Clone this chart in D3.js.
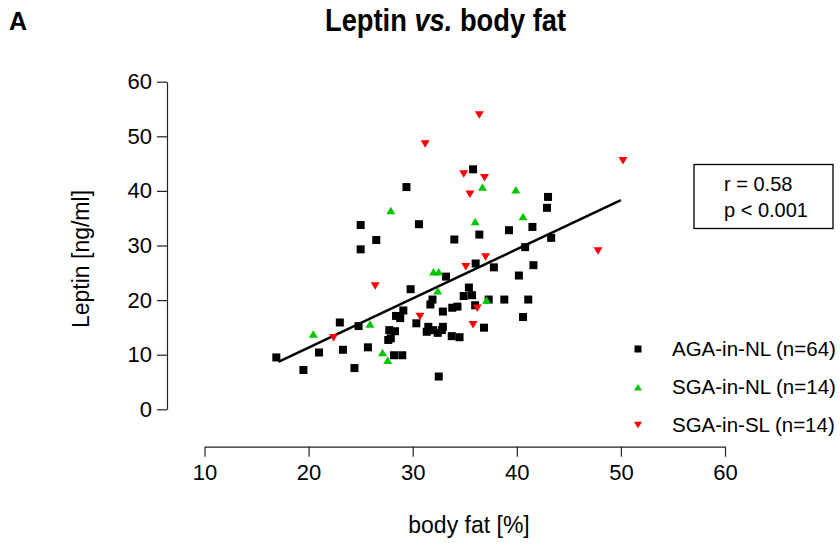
<!DOCTYPE html>
<html>
<head>
<meta charset="utf-8">
<script src="https://cdn.jsdelivr.net/npm/d3@7"></script>
<style>
  body { margin: 0; background: #fff; }
  svg text { font-family: "Liberation Sans", Arial, sans-serif; fill: #000; }
</style>
</head>
<body>
<div id="chart"></div>
<script>
// body fat [%] and leptin [ng/ml] per group
var agaFat = [25.0, 35.8, 29.4, 30.6, 36.4, 26.5, 34.0, 25.0, 43.0, 42.9, 41.5, 39.25, 43.3, 40.8,
    23.0, 24.8, 21.0, 23.3, 16.9, 19.5, 24.4, 36.05, 37.8, 33.2, 29.8, 35.4, 34.9, 35.7, 31.9, 31.7,
    37.3, 36.0, 33.8, 34.3, 32.9, 29.1, 28.4, 28.8, 30.35, 36.85, 31.5, 31.35, 32.4, 32.9, 32.8,
    27.75, 28.3, 27.9, 27.65, 33.75, 34.5, 25.7, 28.2, 29.0, 32.5, 41.6, 40.2, 38.8, 41.1, 40.6, 31.95];
var agaLep = [33.75, 43.95, 40.7, 33.9, 32.0, 31.0, 31.1, 29.3, 38.9, 36.9, 33.4, 32.8, 31.4, 29.7,
    15.9, 15.25, 10.4, 10.9, 9.5, 7.2, 7.55, 26.7, 26.0, 24.3, 22.0, 22.3, 20.75, 20.9, 20.1, 19.2,
    20.1, 19.05, 18.6, 18.8, 17.9, 18.1, 17.1, 16.7, 15.75, 14.95, 15.1, 14.2, 14.0, 15.1, 14.5,
    14.5, 14.3, 13.0, 12.7, 13.4, 13.2, 11.35, 9.9, 9.9, 6.0, 26.4, 24.5, 20.1, 20.1, 16.9, 14.5];

var sgaNlFat = [36.7, 27.9, 36.0, 39.9, 40.6, 32.0, 32.5, 32.4, 37.1, 25.9, 20.45, 27.1, 27.6];
var sgaNlLep = [40.7, 36.4, 34.4, 40.2, 35.3, 25.2, 25.2, 21.7, 20.0, 15.6, 13.8, 10.4, 9.0];

var sgaSlFat = [36.4, 31.2, 34.9, 36.9, 35.5, 50.2, 47.8, 37.0, 35.1, 26.4, 36.2, 30.7, 35.8, 22.4];
var sgaSlLep = [53.9, 48.6, 43.1, 42.4, 39.4, 45.5, 29.0, 27.9, 26.1, 22.6, 18.5, 17.0, 15.5, 13.1];

// regression line end points
var fitX = [17.1, 50.0];
var fitY = [8.7, 38.3];

var xTicks = [10, 20, 30, 40, 50, 60];
var yTicks = [0, 10, 20, 30, 40, 50, 60];

var legendLabels = ["AGA-in-NL (n=64)", "SGA-in-NL (n=14)", "SGA-in-SL (n=14)"];
var statLines = ["r = 0.58", "p < 0.001"];

var width = 840, height = 550;
var svg = d3.select("#chart").append("svg")
    .attr("width", width)
    .attr("height", height);

var x = d3.scaleLinear().domain([10, 60]).range([204.5, 725]);
var y = d3.scaleLinear().domain([0, 60]).range([409.3, 81.7]);

// axes, set off from the plot like in R
var yAxis = svg.append("g")
    .attr("transform", "translate(167,0)")
    .call(d3.axisLeft(y).tickValues(yTicks).tickSize(10).tickSizeOuter(0).tickPadding(5));
var xAxis = svg.append("g")
    .attr("transform", "translate(0,446.7)")
    .call(d3.axisBottom(x).tickValues(xTicks).tickSize(10).tickSizeOuter(0).tickPadding(8));

[xAxis, yAxis].forEach(function(ax) {
    ax.selectAll("path, line").attr("stroke", "#222").attr("stroke-width", 1.2);
    ax.selectAll("text").style("font-size", "22px").attr("fill", "#000")
        .style("font-family", "'Liberation Sans', Arial, sans-serif");
});

// regression line
svg.append("line")
    .attr("x1", x(fitX[0])).attr("y1", y(fitY[0]))
    .attr("x2", x(fitX[1])).attr("y2", y(fitY[1]))
    .attr("stroke", "#000")
    .attr("stroke-width", 2.5);

function triUp(w, h) {
    return "M0," + (-h / 2) + "L" + (w / 2) + "," + (h / 2) + "L" + (-w / 2) + "," + (h / 2) + "Z";
}
function triDown(w, h) {
    return "M0," + (h / 2) + "L" + (w / 2) + "," + (-h / 2) + "L" + (-w / 2) + "," + (-h / 2) + "Z";
}

var sq = 8;
svg.append("g").selectAll("rect")
    .data(d3.range(agaFat.length))
    .join("rect")
    .attr("x", function(i) { return x(agaFat[i]) - sq / 2; })
    .attr("y", function(i) { return y(agaLep[i]) - sq / 2; })
    .attr("width", sq).attr("height", sq)
    .attr("fill", "#000");

svg.append("g").selectAll("path")
    .data(d3.range(sgaNlFat.length))
    .join("path")
    .attr("d", triUp(9, 7.5))
    .attr("transform", function(i) { return "translate(" + x(sgaNlFat[i]) + "," + y(sgaNlLep[i]) + ")"; })
    .attr("fill", "#00c800");

svg.append("g").selectAll("path")
    .data(d3.range(sgaSlFat.length))
    .join("path")
    .attr("d", triDown(9, 7.5))
    .attr("transform", function(i) { return "translate(" + x(sgaSlFat[i]) + "," + y(sgaSlLep[i]) + ")"; })
    .attr("fill", "#ff0000");

// titles
svg.append("text")
    .attr("x", 9).attr("y", 30)
    .style("font-size", "25px").style("font-weight", "bold")
    .text("A");

// title in three pieces, squeezed to the width it has in the picture
var titleParts = [
    {t: "Leptin", x0: 325, len: 81.8, it: false},
    {t: "vs.", x0: 414.4, len: 37.9, it: true},
    {t: "body fat", x0: 459.9, len: 106.1, it: false}
];
svg.selectAll(".title")
    .data(titleParts)
    .join("text")
    .attr("class", "title")
    .attr("x", function(d) { return d.x0; })
    .attr("y", 31)
    .attr("textLength", function(d) { return d.len; })
    .attr("lengthAdjust", "spacingAndGlyphs")
    .style("font-size", "31px").style("font-weight", "bold")
    .style("font-style", function(d) { return d.it ? "italic" : "normal"; })
    .text(function(d) { return d.t; });

svg.append("text")
    .attr("x", 469).attr("y", 533)
    .attr("text-anchor", "middle")
    .style("font-size", "23px")
    .text("body fat [%]");

svg.append("text")
    .attr("transform", "translate(89,259) rotate(-90)")
    .attr("text-anchor", "middle")
    .style("font-size", "23px")
    .text("Leptin [ng/ml]");

// stats box
svg.append("rect")
    .attr("x", 694).attr("y", 164.5)
    .attr("width", 139).attr("height", 64)
    .attr("fill", "none")
    .attr("stroke", "#000")
    .attr("stroke-width", 1.3);
svg.selectAll(".stat")
    .data(statLines)
    .join("text")
    .attr("class", "stat")
    .attr("x", 724)
    .attr("y", function(d, i) { return 191 + i * 26; })
    .style("font-size", "20px")
    .text(function(d) { return d; });

// legend
var legendY = [349, 387.3, 425];
var leg = svg.append("g");
leg.append("rect")
    .attr("x", 638 - 3.5).attr("y", legendY[0] - 3.5)
    .attr("width", 7).attr("height", 7)
    .attr("fill", "#000");
leg.append("path")
    .attr("d", triUp(8, 6.5))
    .attr("transform", "translate(638," + legendY[1] + ")")
    .attr("fill", "#00c800");
leg.append("path")
    .attr("d", triDown(8, 6.5))
    .attr("transform", "translate(638," + legendY[2] + ")")
    .attr("fill", "#ff0000");
leg.selectAll(".lab")
    .data(legendLabels)
    .join("text")
    .attr("class", "lab")
    .attr("x", 672)
    .attr("y", function(d, i) { return legendY[i] + 7; })
    .style("font-size", "20.5px")
    .text(function(d) { return d; });
</script>
</body>
</html>
